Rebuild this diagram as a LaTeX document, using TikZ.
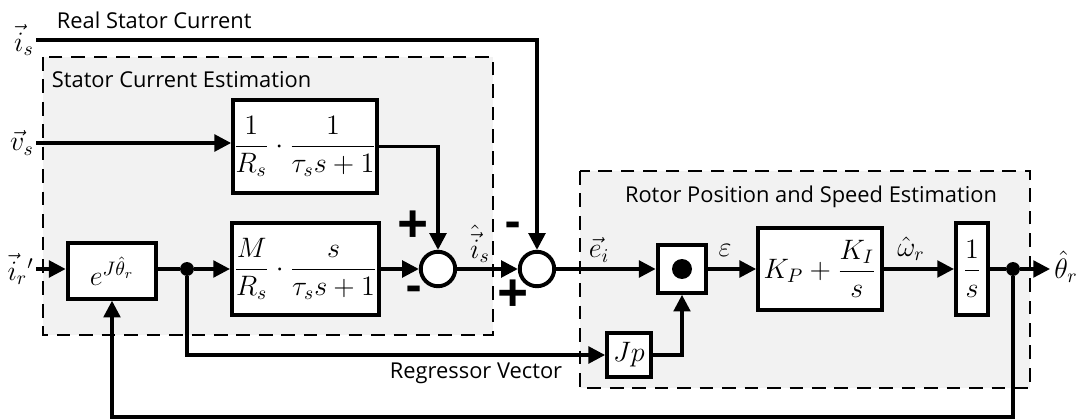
\documentclass[tikz,border=0pt]{standalone}
\usepackage{fontspec}
\setsansfont{Open Sans}
\usepackage{amsmath}
\usetikzlibrary{positioning,arrows.meta}
\definecolor{ink}{HTML}{000000}
\definecolor{panel}{HTML}{F2F2F2}
\tikzset{
  wire/.style={draw=ink, line width=1.7pt},
  sig/.style={wire, -{Triangle[length=0.3cm, width=0.3cm]}},
  blk/.style={rectangle, draw=ink, fill=white, line width=2pt, inner sep=0pt, font=\fontsize{14}{16}\selectfont},
  sumnode/.style={circle, draw=ink, fill=white, line width=2pt, inner sep=0pt, minimum size=0.62cm},
  junc/.style={circle, fill=ink, inner sep=0pt, minimum size=0.25cm},
  panelbox/.style={draw=ink, fill=panel, line width=1.4pt, dash pattern=on 7pt off 4.5pt},
  lbl/.style={font=\sffamily\fontsize{11.2}{13}\selectfont, text=ink},
  mlbl/.style={font=\fontsize{14}{16}\selectfont, text=ink, inner sep=1pt},
  sgn/.style={font=\sffamily\bfseries\fontsize{28}{30}\selectfont, text=ink, inner sep=0pt},
  sgnm/.style={font=\sffamily\bfseries\fontsize{24}{26}\selectfont, text=ink, inner sep=0pt},
}

\begin{document}
\begin{tikzpicture}[x=0.018cm, y=-0.018cm]
\useasboundingbox (0,0) rectangle (1081,419);
\draw[panelbox] (43,57) rectangle (493,335);
\draw[panelbox] (580,171) rectangle (1030,388);
\node[lbl, anchor=west] (ttlreal) at (50,20) {Real Stator Current};
\node[lbl, anchor=west] (ttlsce) at (45,80) {Stator Current Estimation};
\node[lbl] (ttlrpse) at (811,197) {Rotor Position and Speed Estimation};
\node[lbl, anchor=west] (ttlreg) at (383,373) {Regressor Vector};

\node[blk, minimum width=2.59cm, minimum height=1.67cm] (gain1) at (305,146.5) {$\dfrac{1}{R_s}\cdot\dfrac{1}{\tau_s s+1}$};
\node[blk, minimum width=2.65cm, minimum height=1.66cm] (gain2) at (305.5,269) {$\dfrac{M}{R_s}\cdot\dfrac{s}{\tau_s s+1}$};
\node[blk, minimum width=1.60cm, minimum height=1.0cm] (rot) at (112,271) {$e^{J\hat{\theta}_r}$};
\node[sumnode] (sum1) at (438,269) {};
\node[sumnode] (sum2) at (537,269) {};
\node[blk, minimum width=0.88cm, minimum height=0.86cm] (dotp) at (682,269) {};
\node[junc, minimum size=0.36cm] (dotc) at (dotp) {};
\node[blk, minimum width=2.23cm, minimum height=1.49cm] (pi) at (820,269) {$K_P+\dfrac{K_I}{s}$};
\node[blk, minimum width=0.58cm, minimum height=1.66cm] (integ) at (972,269) {$\dfrac{1}{s}$};
\node[blk, minimum width=0.79cm, minimum height=0.79cm] (jp) at (629,355) {$Jp$};
\node[junc] (j1) at (187,269) {};
\node[junc] (j2) at (1013,269) {};

\coordinate (isin) at (36,40);
\coordinate (vsin) at (36,143);
\coordinate (irin) at (36,269);
\coordinate (thout) at (1050,269);
\coordinate (fbbot) at (0,417);
\node[mlbl, anchor=east] (islbl) at (isin) {$\vec{i}_s$};
\node[mlbl, anchor=east] (vslbl) at (vsin) {$\vec{v}_s$};
\node[mlbl, anchor=east] (irlbl) at (irin) {$\vec{i}_r{}'$};
\node[mlbl] (thlbl) at (1066,267) {$\hat{\theta}_r$};
\node[mlbl] (ishat) at (480,244) {$\hat{\vec{i}}_s$};
\node[mlbl] (eilbl) at (599,250) {$\vec{e}_i$};
\node[mlbl] (epslbl) at (725,250) {$\varepsilon$};
\node[mlbl] (wlbl) at (911,249) {$\hat{\omega}_r$};

\draw[sig] (isin) -| (sum2.north);
\draw[sig] (vsin) -- (vsin -| gain1.west);
\draw[sig] (gain1.east) -| (sum1.north);
\draw[sig] (irin) -- (irin -| rot.west);
\draw[wire] (rot.east |- j1) -- (j1);
\draw[sig] (j1) -- (gain2.west);
\draw[sig] (gain2.east) -- (sum1.west);
\draw[sig] (sum1.east) -- (sum2.west);
\draw[sig] (sum2.east) -- (dotp.west);
\draw[sig] (dotp.east) -- (pi.west);
\draw[sig] (pi.east) -- (integ.west);
\draw[wire] (integ.east) -- (j2);
\draw[sig] (j2) -- (thout);
\draw[sig] (j1) |- (jp.west);
\draw[sig] (jp.east) -| (dotp.south);
\draw[sig] (j2) -- (j2 |- fbbot) -| (rot.south);

\node[sgn] (p1) at (413,227) {+};
\node[sgnm] (m1) at (414,294) {-};
\node[sgnm] (m2) at (513,230) {-};
\node[sgn] (p2) at (513,296) {+};
\end{tikzpicture}
\end{document}
